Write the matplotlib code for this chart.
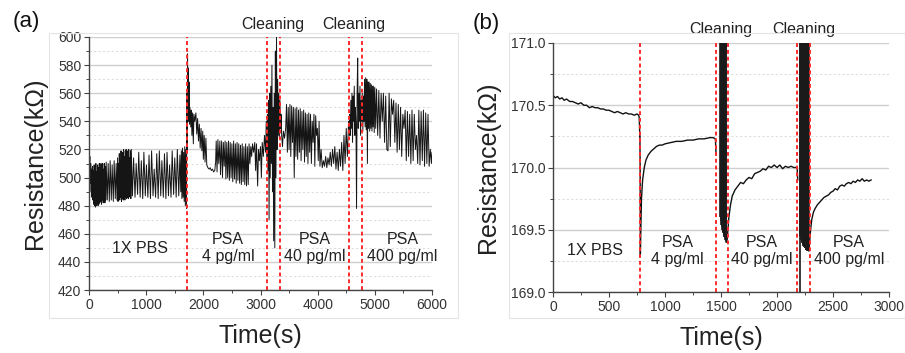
import numpy as np
import matplotlib
matplotlib.use('Agg')
import matplotlib.pyplot as plt
from matplotlib.patches import Rectangle
from matplotlib.ticker import MultipleLocator, FormatStrFormatter
import matplotlib.transforms as mtransforms

plt.rcParams['font.family'] = ['Liberation Sans', 'DejaVu Sans']

# ---------------- panel (a): (time s, resistance kOhm) ----------------
a_pbs = [(0, 522), (8, 508), (15, 515), (22, 496), (30, 510), (38, 490), (45, 506), (52, 486),
         (60, 508), (68, 484), (75, 505), (82, 481), (90, 509), (98, 480), (105, 507), (112, 479),
         (120, 510), (128, 480), (135, 504), (142, 482), (150, 509), (158, 480), (165, 507),
         (172, 481), (180, 510), (188, 482), (195, 505), (202, 483), (210, 510), (218, 481),
         (225, 508), (232, 484), (240, 510), (248, 482), (255, 506), (262, 483), (270, 510),
         (278, 482), (285, 508), (292, 484), (300, 511), (320, 484), (335, 510), (355, 483),
         (370, 512), (390, 484), (405, 509), (425, 483), (440, 512), (460, 485), (475, 510),
         (490, 484), (500, 514), (508, 483), (515, 510), (522, 485), (530, 517), (538, 484),
         (545, 512), (552, 486), (560, 519), (568, 483), (575, 514), (582, 485), (590, 518),
         (598, 484), (605, 520), (612, 486), (620, 515), (628, 484), (635, 519), (642, 486),
         (650, 520), (658, 485), (665, 516), (672, 486), (680, 519), (688, 485), (695, 520),
         (702, 487), (710, 514), (718, 486), (725, 519), (732, 485), (740, 520), (760, 487),
         (780, 514), (805, 486), (825, 510), (850, 488), (870, 518), (895, 486), (915, 512),
         (940, 485), (960, 518), (985, 487), (1005, 509), (1030, 486), (1050, 516), (1075, 485),
         (1095, 519), (1120, 487), (1140, 506), (1165, 486), (1185, 517), (1210, 485),
         (1230, 519), (1255, 487), (1275, 512), (1300, 486), (1320, 517), (1345, 485),
         (1365, 518), (1390, 487), (1410, 509), (1435, 486), (1455, 519), (1480, 488),
         (1500, 514), (1525, 486), (1545, 520), (1570, 487), (1590, 516), (1605, 490),
         (1615, 519), (1625, 485), (1635, 521), (1645, 486), (1655, 518), (1665, 483),
         (1675, 522), (1685, 480), (1695, 520), (1705, 478)]

a_psa4 = [(1712, 560), (1718, 520), (1724, 588), (1730, 545), (1736, 578), (1742, 540),
          (1750, 568), (1758, 538), (1766, 550), (1780, 536), (1790, 548), (1800, 530),
          (1812, 546), (1825, 524), (1835, 545), (1850, 540), (1870, 546), (1885, 531),
          (1900, 542), (1915, 526), (1930, 538), (1945, 521), (1960, 535), (1975, 519),
          (1990, 533), (2000, 513), (2015, 530), (2030, 511), (2045, 528), (2060, 509),
          (2080, 507), (2100, 506), (2120, 507), (2140, 505), (2160, 506), (2180, 504),
          (2200, 505), (2215, 511), (2225, 526), (2240, 504), (2255, 527), (2270, 510),
          (2290, 526), (2300, 502), (2320, 526), (2335, 500), (2350, 525), (2365, 508),
          (2380, 526), (2395, 499), (2410, 525), (2425, 500), (2440, 526), (2455, 498),
          (2470, 525), (2485, 500), (2500, 524), (2515, 497), (2530, 526), (2545, 499),
          (2560, 524), (2575, 496), (2590, 525), (2605, 498), (2620, 524), (2635, 496),
          (2650, 523), (2665, 495), (2680, 524), (2695, 497), (2710, 522), (2725, 495),
          (2740, 524), (2755, 494), (2770, 522), (2785, 495), (2800, 524), (2815, 510),
          (2830, 522), (2845, 515), (2860, 524), (2880, 518), (2900, 525), (2915, 505),
          (2930, 524), (2950, 494), (2965, 520), (2980, 512), (3000, 522), (3015, 500),
          (3030, 525), (3050, 515), (3070, 530), (3090, 518)]

a_clean1 = [(3100, 540), (3110, 512), (3120, 545), (3130, 505), (3140, 555), (3150, 470),
            (3160, 560), (3170, 500), (3180, 565), (3190, 510), (3200, 580), (3210, 490),
            (3220, 550), (3230, 455), (3240, 560), (3250, 450), (3260, 590), (3270, 500),
            (3280, 600), (3290, 520), (3300, 570), (3310, 530), (3320, 560), (3330, 528),
            (3340, 555), (3350, 535), (3360, 545)]

a_psa40 = [(3370, 530), (3385, 522), (3400, 533), (3420, 528), (3440, 535), (3455, 552),
           (3470, 518), (3485, 550), (3500, 520), (3515, 552), (3530, 515), (3545, 551),
           (3560, 525), (3575, 550), (3590, 500), (3605, 549), (3620, 515), (3635, 550),
           (3650, 513), (3665, 548), (3680, 518), (3695, 549), (3710, 512), (3725, 547),
           (3740, 520), (3755, 548), (3770, 511), (3785, 546), (3800, 515), (3815, 545),
           (3830, 510), (3845, 546), (3860, 518), (3875, 545), (3890, 510), (3905, 540),
           (3920, 525), (3935, 545), (3950, 508), (3965, 544), (3980, 530), (3995, 535),
           (4010, 512), (4025, 540), (4040, 508), (4060, 520), (4080, 507), (4100, 512),
           (4120, 508), (4140, 515), (4160, 507), (4180, 514), (4200, 509), (4220, 518),
           (4240, 508), (4260, 520), (4280, 510), (4300, 522), (4320, 506), (4340, 518),
           (4360, 505), (4380, 520), (4400, 508), (4420, 525), (4440, 505), (4460, 530),
           (4480, 510), (4500, 535), (4520, 515), (4540, 540), (4555, 530)]

a_clean2 = [(4560, 545), (4570, 530), (4580, 555), (4590, 535), (4600, 560), (4610, 525),
            (4620, 558), (4630, 540), (4640, 565), (4650, 530), (4660, 550), (4670, 538),
            (4680, 478), (4690, 560), (4700, 585), (4710, 535), (4720, 560), (4730, 540),
            (4740, 565), (4750, 530), (4760, 555), (4770, 540), (4780, 560), (4790, 533),
            (4800, 558)]

a_psa400 = [(4810, 540), (4820, 570), (4830, 536), (4840, 571), (4850, 534), (4860, 570),
            (4870, 510), (4880, 568), (4890, 535), (4900, 568), (4910, 533), (4920, 567),
            (4930, 535), (4940, 566), (4950, 533), (4960, 565), (4970, 536), (4980, 565),
            (4990, 532), (5000, 564), (5015, 535), (5030, 563), (5050, 530), (5070, 562),
            (5090, 528), (5110, 560), (5130, 540), (5150, 560), (5170, 525), (5190, 558),
            (5210, 520), (5230, 519), (5250, 560), (5270, 522), (5290, 556), (5310, 545),
            (5330, 555), (5350, 525), (5370, 553), (5390, 518), (5410, 552), (5430, 520),
            (5450, 550), (5470, 515), (5490, 545), (5510, 535), (5530, 548), (5550, 512),
            (5570, 547), (5590, 515), (5610, 545), (5630, 510), (5650, 548), (5670, 512),
            (5690, 545), (5710, 520), (5730, 530), (5750, 510), (5770, 548), (5790, 509),
            (5810, 547), (5830, 512), (5850, 548), (5870, 508), (5890, 546), (5910, 510),
            (5930, 545), (5950, 508), (5970, 520), (5990, 510), (6000, 518)]

a_events = [1715, 3115, 3340, 4548, 4781]

# ---------------- panel (b) ----------------
b_pbs = [(0, 170.58), (20, 170.56), (40, 170.57), (60, 170.55), (80, 170.56), (100, 170.54),
         (120, 170.55), (150, 170.53), (175, 170.53), (200, 170.52), (225, 170.51),
         (250, 170.52), (275, 170.50), (300, 170.50), (325, 170.48), (350, 170.49),
         (375, 170.48), (400, 170.48), (425, 170.47), (450, 170.47), (475, 170.46),
         (500, 170.46), (525, 170.45), (550, 170.44), (575, 170.45), (600, 170.44),
         (625, 170.43), (650, 170.44), (675, 170.43), (700, 170.43), (725, 170.42),
         (750, 170.43), (765, 170.42), (770, 170.40), (775, 170.25)]

b_psa4 = [(776, 170.25), (778, 170.0), (780, 169.3), (784, 169.5), (790, 169.75),
          (800, 169.9), (815, 170.0), (830, 170.06), (850, 170.1), (875, 170.13),
          (900, 170.15), (925, 170.17), (950, 170.18), (975, 170.18), (1000, 170.19),
          (1050, 170.2), (1100, 170.21), (1150, 170.21), (1200, 170.22), (1250, 170.22),
          (1300, 170.23), (1350, 170.23), (1400, 170.24), (1430, 170.24), (1450, 170.23),
          (1456, 170.1)]

# cleaning steps: signal swings between these minima and the top of the scale
b_clean1_t = [1495, 1499, 1503, 1507, 1511, 1515, 1519, 1523, 1527, 1531, 1535, 1539, 1543, 1547]
b_clean1_low = [169.6, 169.57, 169.54, 169.52, 169.5, 169.48, 169.47, 169.46, 169.45, 169.44,
                169.43, 169.42, 169.41, 169.4]

b_psa40 = [(1547, 169.4), (1555, 169.42), (1562, 169.5), (1570, 169.6), (1585, 169.7),
           (1600, 169.77), (1625, 169.82), (1650, 169.85), (1675, 169.88), (1700, 169.87),
           (1725, 169.9), (1750, 169.92), (1775, 169.91), (1800, 169.95), (1825, 169.96),
           (1850, 169.97), (1875, 169.99), (1900, 169.98), (1925, 170.01), (1950, 170.0),
           (1975, 170.02), (2000, 170.0), (2025, 170.02), (2050, 169.99), (2075, 170.01),
           (2100, 170.0), (2125, 170.01), (2150, 170.0), (2180, 170.0), (2185, 169.9)]

b_clean2_t = [2205, 2209, 2213, 2217, 2221, 2225, 2229, 2233, 2237, 2241, 2245, 2249, 2253,
              2257, 2261, 2265, 2269, 2273, 2277, 2281, 2285]
b_clean2_low = [169.45, 169.0, 169.43, 169.42, 169.4, 169.39, 169.38, 169.37, 169.37, 169.36,
                169.36, 169.35, 169.35, 169.34, 169.34, 169.34, 169.33, 169.33, 169.33,
                169.33, 169.33]

b_psa400 = [(2285, 169.33), (2300, 169.5), (2310, 169.58), (2325, 169.64), (2340, 169.67),
            (2360, 169.7), (2380, 169.72), (2400, 169.74), (2420, 169.76), (2440, 169.77),
            (2460, 169.78), (2480, 169.8), (2500, 169.81), (2520, 169.83), (2540, 169.82),
            (2560, 169.85), (2580, 169.86), (2600, 169.85), (2620, 169.87), (2640, 169.88),
            (2660, 169.87), (2680, 169.89), (2700, 169.88), (2720, 169.9), (2740, 169.89),
            (2760, 169.91), (2780, 169.89), (2800, 169.9), (2820, 169.89), (2840, 169.9)]

b_events = [775, 1455, 1560, 2183, 2297]

region_labels = ['1X PBS', 'PSA\n4 pg/ml', 'PSA\n40 pg/ml', 'PSA\n400 pg/ml']

fig = plt.figure(figsize=(9.05, 3.53), dpi=100)

# faint page frames like Origin
fig.add_artist(Rectangle((49 / 905, 1 - 318 / 353), 409 / 905, 285 / 353, transform=fig.transFigure,
                         fill=False, edgecolor='#e4e4e4', lw=0.8))
fig.add_artist(Rectangle((509 / 905, 1 - 318 / 353), 396 / 905, 285 / 353, transform=fig.transFigure,
                         fill=False, edgecolor='#e4e4e4', lw=0.8))

ax1 = fig.add_axes([89 / 905, 63 / 353, 343 / 905, 253 / 353])
ax2 = fig.add_axes([553 / 905, 61 / 353, 336 / 905, 249 / 353])


def style(ax, major_y, minor_y, major_x, minor_x):
    ax.yaxis.set_major_locator(MultipleLocator(major_y))
    ax.yaxis.set_minor_locator(MultipleLocator(minor_y))
    ax.xaxis.set_major_locator(MultipleLocator(major_x))
    ax.xaxis.set_minor_locator(MultipleLocator(minor_x))
    ax.grid(axis='y', which='major', color='#cfcfcf', lw=1.0)
    ax.grid(axis='y', which='minor', color='#dddddd', lw=0.8, ls=(0, (2, 2)))
    ax.set_axisbelow(True)
    for s in ['top', 'right']:
        ax.spines[s].set_visible(False)
    for s in ['left', 'bottom']:
        ax.spines[s].set_color('#444444')
        ax.spines[s].set_linewidth(1.0)
    ax.tick_params(which='major', direction='out', length=3.5, width=0.8, colors='#444444',
                   labelsize=10, labelcolor='#333333', pad=2)
    ax.tick_params(which='minor', direction='out', length=2, width=0.7, colors='#444444')
    ax.set_xlabel('Time(s)', fontsize=18, color='#222222', labelpad=9)
    ax.set_ylabel('Resistance(k\u03a9)', fontsize=18, color='#222222', labelpad=8)


# panel (a)
a_data = np.array(a_pbs + a_psa4 + a_clean1 + a_psa40 + a_clean2 + a_psa400, dtype=float)
ax1.plot(a_data[:, 0], a_data[:, 1], color='#151515', lw=0.7)
for t in a_events:
    ax1.axvline(t, color='#ff2a2a', lw=1.4, ls=(0, (2, 1.5)))
ax1.set_xlim(0, 6000)
ax1.set_ylim(420, 600)
style(ax1, 20, 10, 1000, 500)
ax1.yaxis.set_major_formatter(FormatStrFormatter('%d'))

for x, y, s in zip([887, 2434, 3951, 5486], [449.6, 450, 450, 450], region_labels):
    ax1.text(x, y, s, ha='center', va='center', fontsize=11.5, color='#222222',
             multialignment='center', linespacing=1.15)
trans1 = mtransforms.blended_transform_factory(ax1.transData, ax1.transAxes)
for x in [3222, 4640]:
    ax1.text(x, 1.05, 'Cleaning', transform=trans1, ha='center', va='center',
             fontsize=11.5, color='#222222')
fig.text(13 / 905, 1 - 22 / 353, '(a)', fontsize=16, ha='left', va='center', color='#111111')

# panel (b)
ax2.set_xlim(0, 3000)
ax2.set_ylim(169.0, 171.0)
for seg in [b_pbs, b_psa4, b_psa40, b_psa400]:
    d = np.array(seg, dtype=float)
    ax2.plot(d[:, 0], d[:, 1], color='#111111', lw=1.0)
ax2.vlines(b_clean1_t, b_clean1_low, 171.0, color='#1a1a1a', lw=1.2)
ax2.vlines(b_clean2_t, b_clean2_low, 171.0, color='#1a1a1a', lw=1.2)
for t in b_events:
    ax2.axvline(t, color='#ff2a2a', lw=1.4, ls=(0, (2, 1.5)))
style(ax2, 0.5, 0.25, 500, 250)
ax2.yaxis.set_major_formatter(FormatStrFormatter('%.1f'))

for x, y, s in zip([377, 1111, 1862, 2644], [169.33, 169.33, 169.33, 169.33], region_labels):
    ax2.text(x, y, s, ha='center', va='center', fontsize=11.5, color='#222222',
             multialignment='center', linespacing=1.15)
trans2 = mtransforms.blended_transform_factory(ax2.transData, ax2.transAxes)
for x in [1500, 2240]:
    ax2.text(x, 1.056, 'Cleaning', transform=trans2, ha='center', va='center',
             fontsize=11.5, color='#222222')
fig.text(473 / 905, 1 - 24 / 353, '(b)', fontsize=16, ha='left', va='center', color='#111111')

plt.savefig('out.png', dpi=100)
